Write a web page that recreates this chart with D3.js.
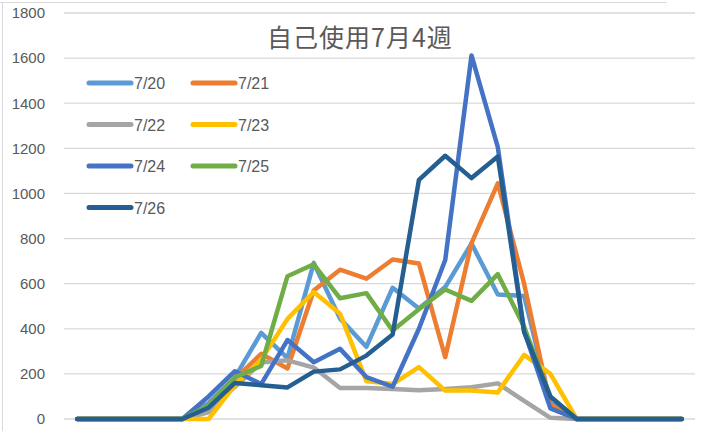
<!DOCTYPE html>
<html>
<head>
<meta charset="utf-8">
<script src="https://cdn.jsdelivr.net/npm/d3@7"></script>
<style>
  body { margin: 0; background: #fff; }
  text { font-family: "Liberation Sans", Arial, sans-serif; fill: #595959; }
  .title { font-family: "Noto Sans CJK JP", sans-serif; }
</style>
</head>
<body>
<div id="main"></div>
<script>
// 時間帯 (0〜23時)
const hours = ['0', '1', '2', '3', '4', '5', '6', '7', '8', '9', '10', '11',
               '12', '13', '14', '15', '16', '17', '18', '19', '20', '21', '22', '23'];

const yTicks = [0, 200, 400, 600, 800, 1000, 1200, 1400, 1600, 1800];

const days = ['7/20', '7/21', '7/22', '7/23', '7/24', '7/25', '7/26'];
const colors = ['#5B9BD5', '#ED7D31', '#A5A5A5', '#FFC000', '#4472C4', '#70AD47', '#255E91'];

const v0720 = [0, 0, 0, 0, 0, 70, 185, 382, 270, 692, 445, 320, 582, 490, 585, 778, 552, 545, 70, 0, 0, 0, 0, 0];
const v0721 = [0, 0, 0, 0, 0, 60, 178, 289, 224, 570, 662, 622, 707, 689, 274, 780, 1045, 600, 62, 0, 0, 0, 0, 0];
const v0722 = [0, 0, 0, 0, 0, 30, 143, 250, 260, 228, 137, 137, 133, 128, 133, 141, 158, 80, 5, 0, 0, 0, 0, 0];
const v0723 = [0, 0, 0, 0, 0, 0, 150, 262, 444, 563, 467, 168, 155, 230, 126, 126, 118, 284, 200, 0, 0, 0, 0, 0];
const v0724 = [0, 0, 0, 0, 0, 100, 212, 155, 350, 252, 311, 186, 143, 400, 705, 1612, 1205, 390, 47, 0, 0, 0, 0, 0];
const v0725 = [0, 0, 0, 0, 0, 60, 185, 235, 633, 686, 535, 558, 392, 487, 574, 524, 642, 409, 100, 0, 0, 0, 0, 0];
const v0726 = [0, 0, 0, 0, 0, 50, 160, 150, 140, 210, 220, 281, 375, 1060, 1167, 1068, 1164, 386, 99, 0, 0, 0, 0, 0];

const seriesValues = [v0720, v0721, v0722, v0723, v0724, v0725, v0726];

const width = 718, height = 431;
const margin = { left: 64, right: 23, top: 13, bottom: 12 };

const svg = d3.select('#main').append('svg')
    .attr('width', width)
    .attr('height', height);

// chart border / sheet remnants
svg.append('line')
    .attr('x1', 0).attr('x2', 667).attr('y1', 2.5).attr('y2', 2.5)
    .attr('stroke', '#D9D9D9').attr('stroke-width', 1);
svg.append('line')
    .attr('x1', 2.5).attr('x2', 2.5).attr('y1', 3).attr('y2', height)
    .attr('stroke', '#D9D9D9').attr('stroke-width', 1);

const xScale = d3.scaleBand()
    .domain(hours)
    .range([margin.left, width - margin.right]);

const yScale = d3.scaleLinear()
    .domain([0, 1800])
    .range([height - margin.bottom, margin.top]);

// gridlines
svg.append('g')
    .selectAll('line')
    .data(yTicks)
    .enter()
    .append('line')
    .attr('x1', margin.left)
    .attr('x2', width - margin.right)
    .attr('y1', d => yScale(d))
    .attr('y2', d => yScale(d))
    .attr('stroke', '#D9D9D9')
    .attr('stroke-width', 1.3);

// y axis labels
const yAxis = d3.axisLeft(yScale)
    .tickValues(yTicks)
    .tickFormat(d3.format('d'))
    .tickSize(0)
    .tickPadding(19);
const gy = svg.append('g')
    .attr('transform', `translate(${margin.left},0)`)
    .call(yAxis);
gy.select('.domain').remove();
gy.selectAll('text')
    .style('font-size', '15px')
    .style('font-family', '"Liberation Sans", Arial, sans-serif')
    .attr('fill', '#595959');

// lines
const line = d3.line()
    .x((d, i) => xScale(hours[i]) + xScale.bandwidth() / 2)
    .y(d => yScale(d));

svg.append('g')
    .selectAll('path')
    .data(seriesValues)
    .enter()
    .append('path')
    .attr('fill', 'none')
    .attr('stroke', (d, i) => colors[i])
    .attr('stroke-width', 4.5)
    .attr('stroke-linejoin', 'round')
    .attr('stroke-linecap', 'round')
    .attr('d', line);

// title
svg.append('text')
    .attr('class', 'title')
    .attr('x', 360)
    .attr('y', 47)
    .attr('text-anchor', 'middle')
    .style('font-size', '25px')
    .style('letter-spacing', '1px')
    .text('自己使用7月4週');

// legend
const legend = svg.append('g')
    .selectAll('g')
    .data(days)
    .enter()
    .append('g')
    .attr('transform', (d, i) => `translate(${89 + (i % 2) * 104},${83 + Math.floor(i / 2) * 41.5})`);

legend.append('line')
    .attr('x1', 0).attr('x2', 42)
    .attr('y1', 0).attr('y2', 0)
    .attr('stroke', (d, i) => colors[i])
    .attr('stroke-width', 5)
    .attr('stroke-linecap', 'round');

legend.append('text')
    .attr('x', 45)
    .attr('y', 6)
    .style('font-size', '16px')
    .text(d => d);
</script>
</body>
</html>
